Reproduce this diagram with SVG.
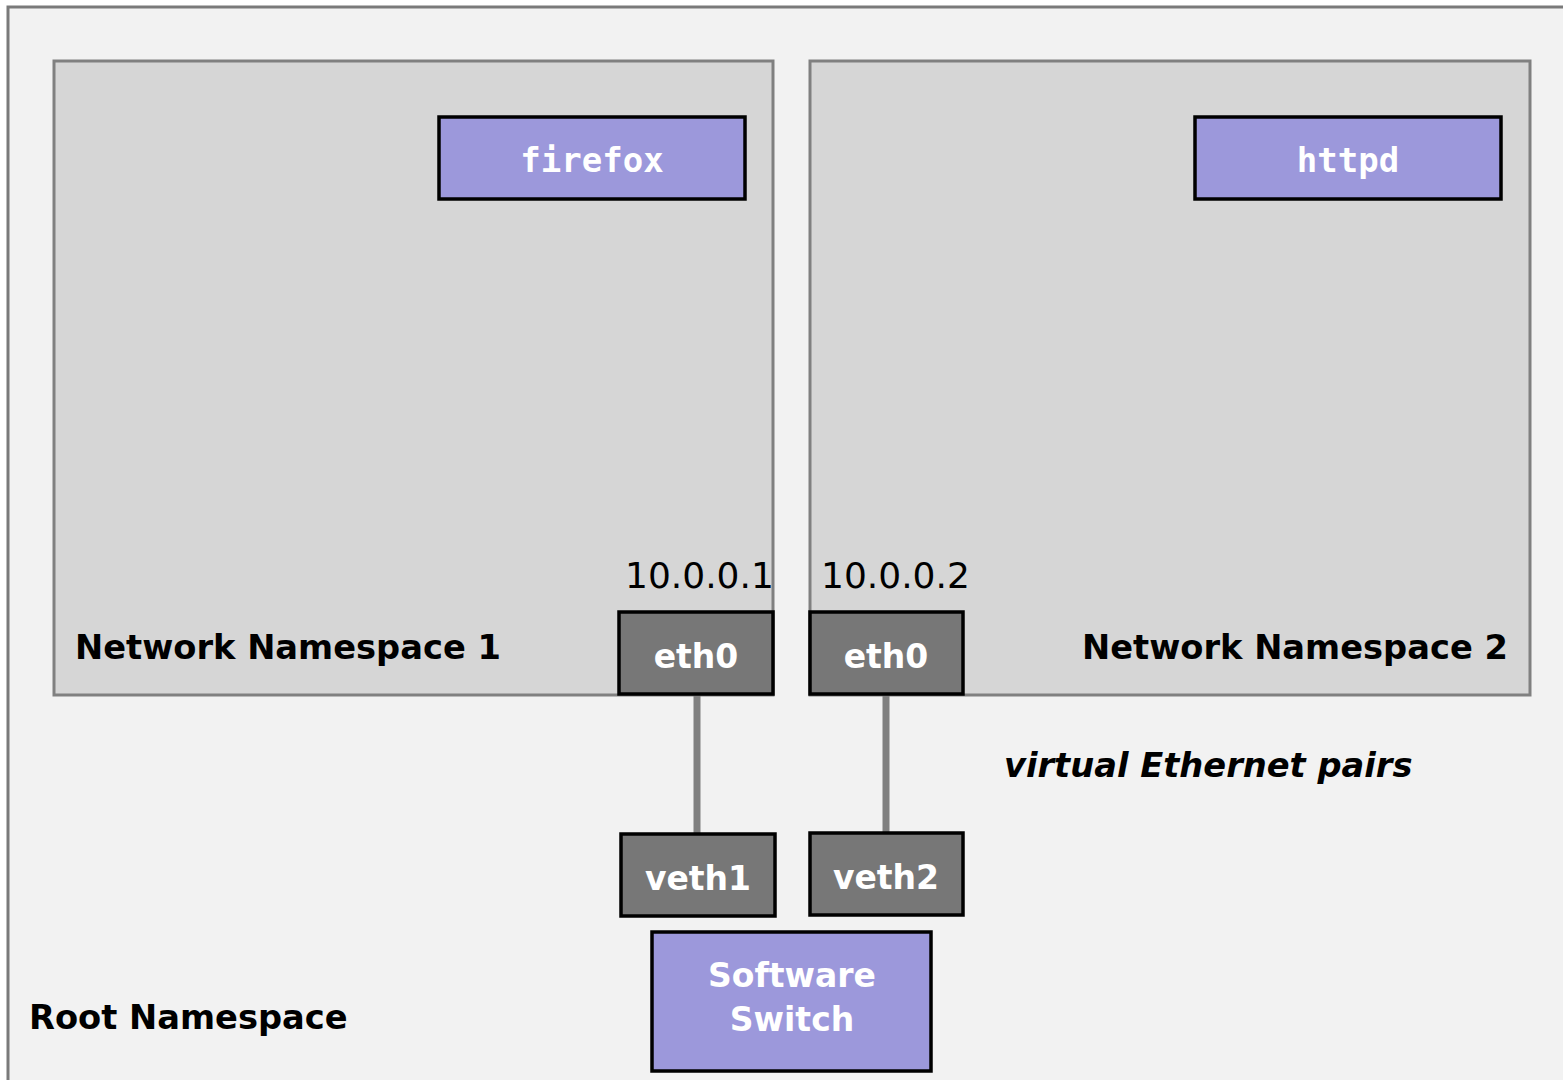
<svg xmlns="http://www.w3.org/2000/svg" width="1563" height="1080" viewBox="0 0 1563 1080">
<style>
.ns{fill:#d6d6d6;stroke:#808080;stroke-width:3}
.proc{fill:#9c98db;stroke:#000;stroke-width:3.5}
.iface{fill:#777777;stroke:#000;stroke-width:3.5}
.mono{font-family:"DejaVu Sans Mono",monospace;font-weight:bold;font-size:34px;fill:#fff;text-anchor:middle}
.lbl{font-family:"DejaVu Sans",sans-serif;font-weight:bold;font-size:33.7px;fill:#000}
.wl{font-family:"DejaVu Sans",sans-serif;font-weight:bold;font-size:33px;fill:#fff;text-anchor:middle}
.ip{font-family:"DejaVu Sans",sans-serif;font-size:36px;fill:#000}
.link{stroke:#808080;stroke-width:7;fill:none}
</style>
<rect x="0" y="0" width="1563" height="1080" fill="#ffffff"/>
<g id="root">
<rect x="8" y="7" width="1570" height="1090" fill="#f2f2f2" stroke="#7a7a7a" stroke-width="3"/>
<text class="lbl" x="29" y="1029">Root Namespace</text>
</g>
<g id="ns1">
<rect class="ns" x="54" y="61" width="719" height="634"/>
<text class="lbl" x="75" y="659">Network Namespace 1</text>
<text class="ip" x="625" y="588">10.0.0.1</text>
</g>
<g id="ns2">
<rect class="ns" x="810" y="61" width="720" height="634"/>
<text class="lbl" x="1082" y="659">Network Namespace 2</text>
<text class="ip" x="821" y="588">10.0.0.2</text>
</g>
<g id="connectors">
<line class="link" x1="697" y1="694" x2="697" y2="834"/>
<line class="link" x1="886" y1="694" x2="886" y2="833"/>
</g>
<g id="firefox">
<rect class="proc" x="439" y="117" width="306" height="82"/>
<text class="mono" x="592" y="172">firefox</text>
</g>
<g id="httpd">
<rect class="proc" x="1195" y="117" width="306" height="82"/>
<text class="mono" x="1348" y="172">httpd</text>
</g>
<g id="eth0-1">
<rect class="iface" x="619" y="612" width="154" height="82"/>
<text class="wl" x="696" y="668">eth0</text>
</g>
<g id="eth0-2">
<rect class="iface" x="810" y="612" width="153" height="82"/>
<text class="wl" x="886" y="668">eth0</text>
</g>
<g id="veth1">
<rect class="iface" x="621" y="834" width="154" height="82"/>
<text class="wl" x="698" y="890">veth1</text>
</g>
<g id="veth2">
<rect class="iface" x="810" y="833" width="153" height="82"/>
<text class="wl" x="886" y="889">veth2</text>
</g>
<g id="switch">
<rect class="proc" x="652" y="932" width="279" height="139"/>
<text class="wl" x="792" y="987">Software</text>
<text class="wl" x="792" y="1031">Switch</text>
</g>
<text class="lbl" x="1004" y="777" font-style="italic">virtual Ethernet pairs</text>
</svg>
